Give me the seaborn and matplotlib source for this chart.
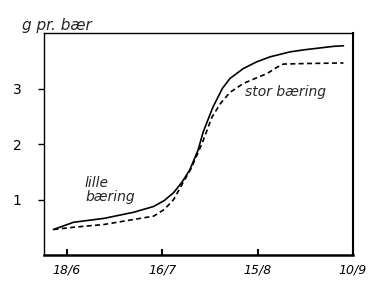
import matplotlib
matplotlib.use("Agg")
import matplotlib.pyplot as plt
import seaborn as sns
import pandas as pd

# x positions in tick units (0 = 18/6, 1 = 16/7, 2 = 15/8, 3 = 10/9)
lille_x = [-0.14, 0.07, 0.39, 0.70, 0.91, 1.02, 1.12, 1.21, 1.29, 1.375, 1.43, 1.53, 1.63, 1.71, 1.85, 1.99, 2.13, 2.34, 2.50, 2.65, 2.80, 2.90]
lille_y = [0.46, 0.59, 0.66, 0.77, 0.875, 0.98, 1.125, 1.32, 1.54, 1.89, 2.22, 2.66, 3.00, 3.18, 3.36, 3.48, 3.57, 3.66, 3.70, 3.73, 3.76, 3.77]

stor_x = [-0.14, 0.07, 0.39, 0.70, 0.91, 1.02, 1.12, 1.20, 1.30, 1.42, 1.52, 1.61, 1.71, 1.85, 2.00, 2.10, 2.20, 2.27, 2.50, 2.90]
stor_y = [0.46, 0.50, 0.55, 0.64, 0.70, 0.82, 1.00, 1.25, 1.55, 2.02, 2.48, 2.73, 2.93, 3.09, 3.20, 3.27, 3.38, 3.44, 3.45, 3.46]

tick_pos = [0, 1, 2, 3]
tick_labels = ["18/6", "16/7", "15/8", "10/9"]
y_ticks = [1, 2, 3]

df = pd.concat([
    pd.DataFrame({"x": lille_x, "y": lille_y, "serie": "lille"}),
    pd.DataFrame({"x": stor_x, "y": stor_y, "serie": "stor"}),
], ignore_index=True)

sns.set_style("white")
plt.rcParams['font.family'] = ['DejaVu Sans']

fig = plt.figure(figsize=(3.85, 2.84), dpi=100)
ax = fig.add_axes([44/385, 1-255/284, (353-44)/385, (255-33)/284])

sns.lineplot(data=df, x="x", y="y", style="serie", color="black",
             dashes={"lille": "", "stor": (3, 2)}, linewidth=1.2,
             legend=False, ax=ax, sort=False, estimator=None)

ax.set_xlim(-0.24, 3.0)
ax.set_ylim(0, 4)
ax.set_xticks(tick_pos)
ax.set_xticklabels(tick_labels, fontsize=9, style="italic")
ax.set_yticks(y_ticks)
ax.set_yticklabels([str(v) for v in y_ticks], fontsize=10)
ax.set_xlabel("")
ax.set_ylabel("")
ax.tick_params(axis="x", bottom=True, direction="in", length=4, width=1.5, pad=6, colors="black")
ax.tick_params(axis="y", left=True, direction="out", length=4, width=1, pad=12, colors="black")
for s in ax.spines.values():
    s.set_color("black")
    s.set_linewidth(1.0)
ax.spines["bottom"].set_linewidth(1.8)
ax.spines["right"].set_linewidth(1.5)

fig.text(22/385, 1-30/284, "g pr. bær", fontsize=11, style="italic", ha="left", va="baseline")
ax.text(0.19, 1.18, "lille\nbæring", fontsize=10, style="italic", ha="left", va="center", linespacing=1.0)
ax.text(1.87, 2.93, "stor bæring", fontsize=10, style="italic", ha="left", va="center")

fig.savefig("out.png", dpi=100)
